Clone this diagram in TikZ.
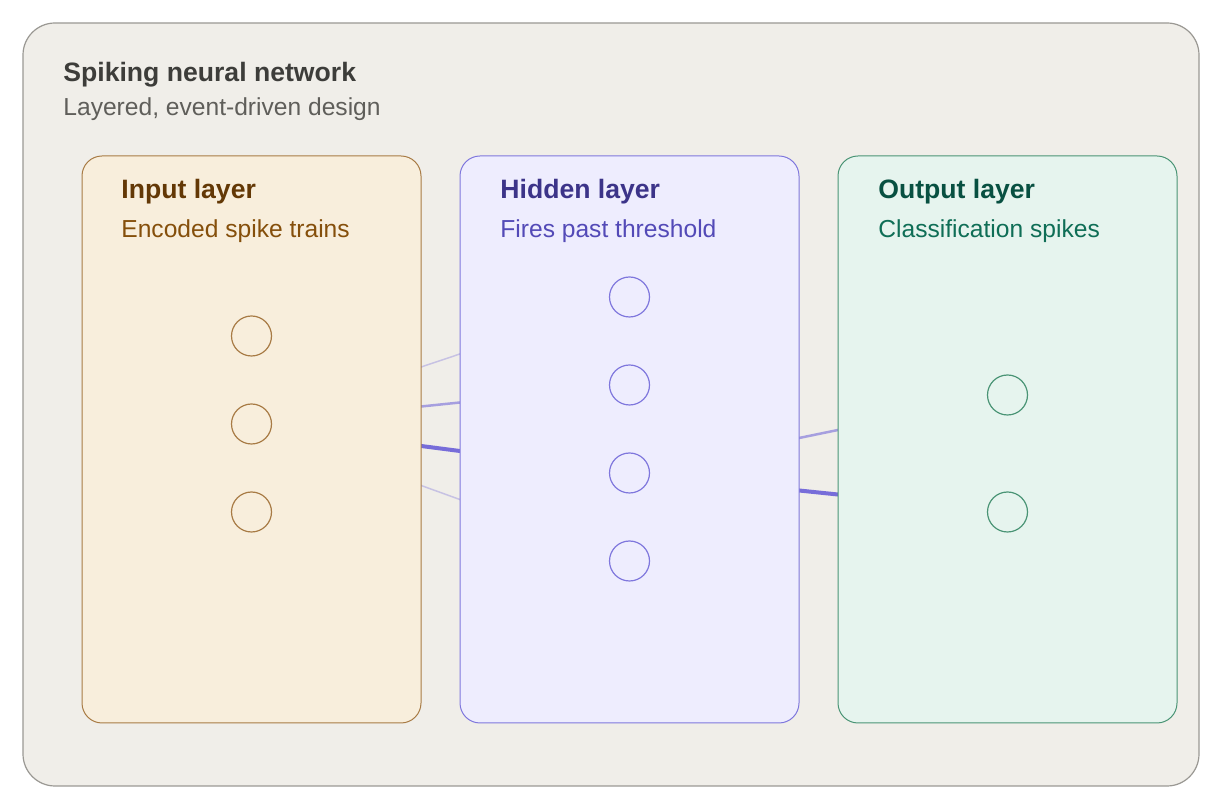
\documentclass[tikz,border=0pt]{standalone}
\usepackage{fontspec}
\setmainfont{Liberation Sans}
\usepackage{tikz}
\usetikzlibrary{positioning}
\definecolor{panelbg}{HTML}{F0EEE9}
\definecolor{paneldraw}{HTML}{9A9893}
\definecolor{inktitle}{HTML}{3D3D3A}
\definecolor{inksub}{HTML}{5F5E5A}
\definecolor{inbg}{HTML}{F8EEDC}
\definecolor{indraw}{HTML}{A87B45}
\definecolor{intitle}{HTML}{633806}
\definecolor{insub}{HTML}{854F0B}
\definecolor{hidbg}{HTML}{EEEDFE}
\definecolor{hiddraw}{HTML}{7F77DD}
\definecolor{hidtitle}{HTML}{3C3489}
\definecolor{hidsub}{HTML}{534AB7}
\definecolor{outbg}{HTML}{E6F4EE}
\definecolor{outdraw}{HTML}{4A9475}
\definecolor{outtitle}{HTML}{085041}
\definecolor{outsub}{HTML}{0F6E56}
\definecolor{syn}{HTML}{6A5FD8}
\pgfdeclarelayer{back}
\pgfdeclarelayer{edges}
\pgfsetlayers{back,edges,main}

\begin{document}
\begin{tikzpicture}[x=0.5pt, y=-0.5pt,
  layer/.style={draw, rounded corners=10pt, line width=0.5pt,
                minimum width=169.5pt, minimum height=283.5pt, inner sep=0pt},
  neuron/.style={circle, draw, line width=0.6pt, minimum size=20pt, inner sep=0pt},
  head/.style={anchor=base west, inner sep=0pt, font=\fontsize{13.3}{16}\selectfont\bfseries},
  sub/.style={anchor=base west, inner sep=0pt, font=\fontsize{12.3}{15}\selectfont},
  weak/.style={syn, line width=0.75pt, opacity=0.3},
  mid/.style={syn, line width=1.25pt, opacity=0.55},
  strong/.style={syn, line width=2pt, opacity=0.9}
]
  \useasboundingbox (0,0) rectangle (1222,806);

  % Outer panel
  \begin{pgfonlayer}{back}
    \draw[fill=panelbg, draw=paneldraw, line width=0.6pt, rounded corners=16pt]
      (23,23) rectangle (1199,786);
  \end{pgfonlayer}
  \node[head, text=inktitle] (title) at (63,82) {Spiking neural network};
  \node[sub, text=inksub] (subtitle) at (63,116) {Layered, event-driven design};

  % Layers
  \node[layer, fill=inbg, draw=indraw] (inlayer) at (251.5,439.5) {};
  \node[layer, fill=hidbg, draw=hiddraw] (hidlayer) at (629.5,439.5) {};
  \node[layer, fill=outbg, draw=outdraw] (outlayer) at (1007.5,439.5) {};

  \node[head, text=intitle] (intitle) at (121,199) {Input layer};
  \node[sub, text=insub] (insub) at (121,238) {Encoded spike trains};
  \node[head, text=hidtitle] (hidtitle) at (500,199) {Hidden layer};
  \node[sub, text=hidsub] (hidsub) at (500,238) {Fires past threshold};
  \node[head, text=outtitle] (outtitle) at (878,199) {Output layer};
  \node[sub, text=outsub] (outsub) at (878,238) {Classification spikes};

  % Neurons
  \foreach \i/\y in {1/336,2/424,3/512}
    \node[neuron, draw=indraw] (in\i) at (251.5,\y) {};
  \foreach \i/\y in {1/297,2/385,3/473,4/561}
    \node[neuron, draw=hiddraw] (hid\i) at (629.5,\y) {};
  \foreach \i/\y in {1/395,2/512}
    \node[neuron, draw=outdraw] (out\i) at (1007.5,\y) {};

  % Synapses (seen only in the gaps)
  \begin{pgfonlayer}{edges}
    \draw[weak] (in2) -- (hid1);
    \draw[mid] (in2) -- (hid2);
    \draw[strong] (in2) -- (hid3);
    \draw[weak] (in2) -- (hid4);
    \draw[mid] (hid3) -- (out1);
    \draw[strong] (hid3) -- (out2);
  \end{pgfonlayer}
\end{tikzpicture}
\end{document}
